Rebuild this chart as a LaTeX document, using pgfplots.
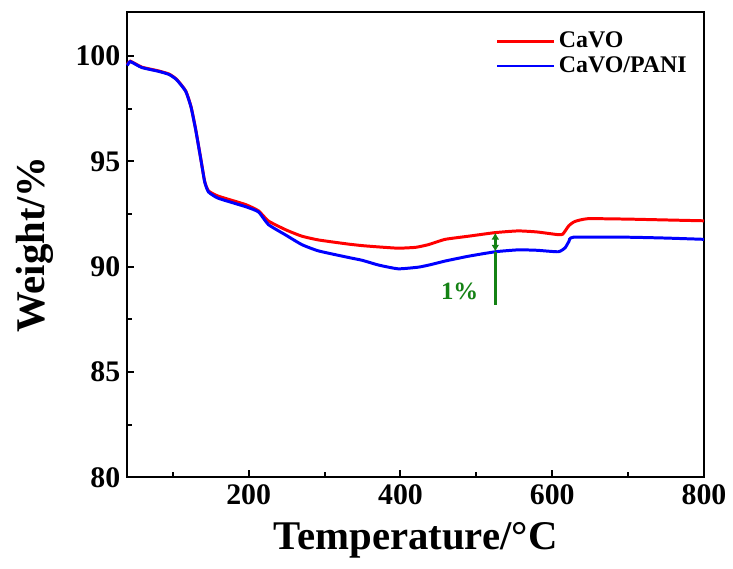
\documentclass[border=0pt]{standalone}
\usepackage{fontspec}
\setmainfont{Liberation Serif}
\usepackage{pgfplots}
\pgfplotsset{compat=1.18}
\usetikzlibrary{arrows.meta}
\definecolor{arrgreen}{RGB}{20,130,20}
\begin{document}
\begin{tikzpicture}
\begin{axis}[
  scale only axis,
  width=290pt, height=234pt,
  xmin=40, xmax=800, ymin=80, ymax=102.1,
  xtick={200,400,600,800},
  minor xtick={100,300,500,700},
  ytick={80,85,90,95,100},
  minor ytick={82.5,87.5,92.5,97.5},
  xtick pos=bottom, ytick pos=left,
  tick align=inside,
  major tick length=3.5pt, minor tick length=2.5pt,
  axis line style={line width=1.1pt},
  every tick/.style={black, line width=1pt},
  /pgf/number format/assume math mode=true,
  ticklabel style={font=\fontsize{15}{15}\selectfont\bfseries},
  xlabel={Temperature/\textdegree C},
  ylabel={Weight/\%},
  label style={font=\fontsize{20.5}{21}\selectfont\bfseries},
  xlabel style={yshift=-2pt},
  ylabel style={yshift=4pt},
  legend style={draw=none, fill=none, at={(0.628,0.975)}, anchor=north west,
    font=\fontsize{12}{12}\selectfont\bfseries, row sep=-1pt,
    /tikz/every even column/.append style={column sep=1pt}},
  legend cell align=left,
  legend image code/.code={\draw[#1, line width=1.3pt] (0cm,0cm) -- (1.0cm,0cm);},
  clip=false,
]
\addplot[red, line width=1.5pt, smooth, tension=0.3] coordinates {
(40,99.6)(44,99.76)(59,99.48)(81,99.3)(95,99.15)(105,98.9)(117,98.35)(124,97.6)
(130,96.55)(137,95.1)(142,94.05)(147,93.6)(160,93.35)(196,92.95)(213,92.65)
(226,92.17)(249,91.75)(270,91.45)(292,91.27)(330,91.08)(350,91.0)(371,90.94)
(397,90.88)(420,90.92)(437,91.05)(459,91.3)(490,91.45)(525,91.62)(555,91.7)
(580,91.65)(608,91.52)(614,91.55)(622,91.95)(630,92.15)(647,92.28)(700,92.26)
(750,92.22)(800,92.18)};
\addlegendentry{CaVO}
\addplot[blue, line width=1.5pt, smooth, tension=0.3] coordinates {
(40,99.55)(44,99.74)(59,99.46)(81,99.28)(95,99.13)(105,98.88)(117,98.33)(124,97.58)
(130,96.53)(137,95.08)(142,94.03)(147,93.55)(160,93.25)(196,92.85)(213,92.6)
(226,92.0)(249,91.5)(270,91.05)(292,90.75)(330,90.45)(350,90.3)(371,90.08)
(397,89.9)(424,89.98)(440,90.1)(459,90.27)(490,90.5)(525,90.71)(555,90.8)
(580,90.78)(608,90.71)(617,90.9)(622,91.2)(628,91.4)(700,91.4)(750,91.36)(800,91.3)};
\addlegendentry{CaVO/PANI}
\draw[arrgreen, line width=1.3pt] (axis cs:525,88.2) -- (axis cs:525,90.71);
\draw[arrgreen, line width=1.2pt, {Latex[length=3.5pt,width=4pt]}-{Latex[length=3.5pt,width=4pt]}] (axis cs:525,90.71) -- (axis cs:525,91.62);
\node[arrgreen, font=\fontsize{12.5}{13}\selectfont\bfseries] at (axis cs:478,88.85) {1\%};
\path (rel axis cs:-0.2207,-0.1966) rectangle (rel axis cs:1.0431,1.0256);
\end{axis}
\end{tikzpicture}
\end{document}
